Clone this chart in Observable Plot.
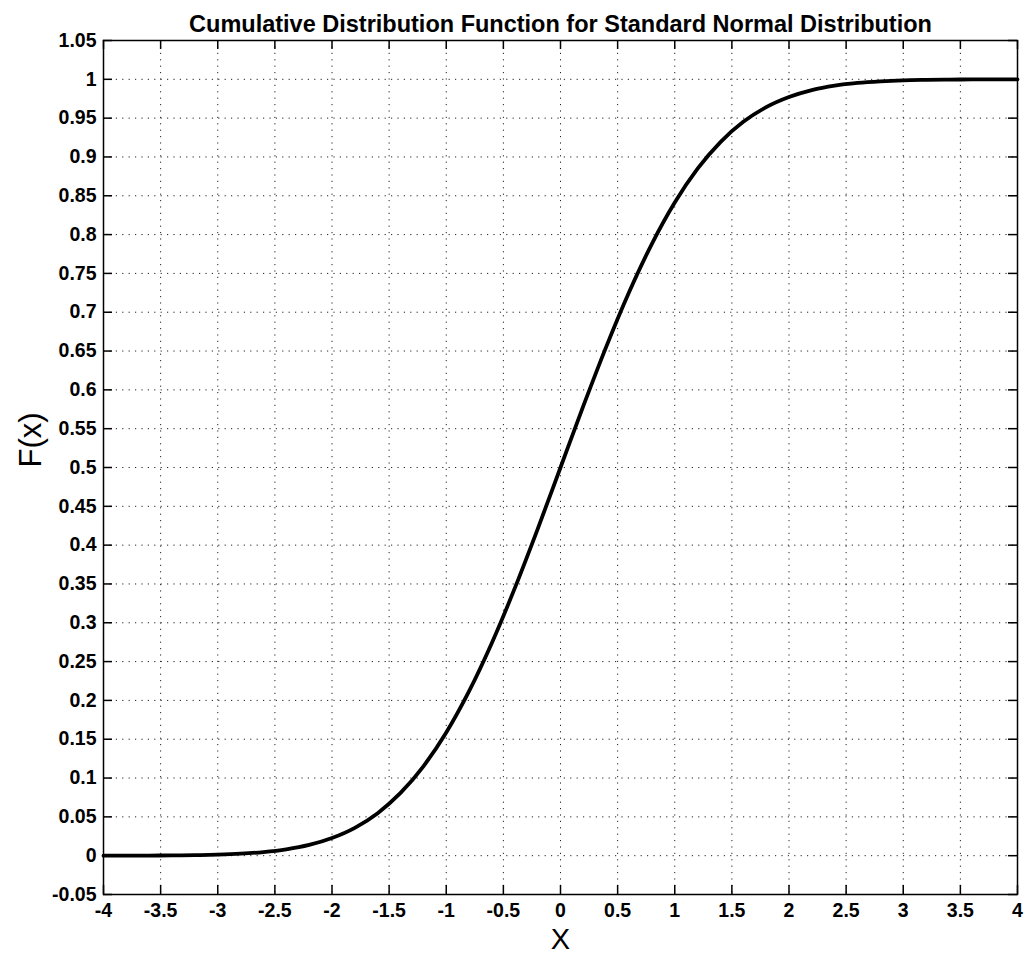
<!DOCTYPE html>
<html>
<head>
<meta charset="utf-8">
<script src="https://cdn.jsdelivr.net/npm/d3@7"></script>
<script src="https://cdn.jsdelivr.net/npm/@observablehq/plot@0.6"></script>
<style>
  html, body { margin: 0; padding: 0; background: #fff; }
  #chart svg { display: block; }
</style>
</head>
<body>
<div id="chart"></div>
<script>
// ---- data ----
const xValues = [-4.0, -3.8, -3.6, -3.4, -3.2, -3.0, -2.8, -2.6, -2.4, -2.2, -2.0,
                 -1.8, -1.6, -1.4, -1.2, -1.0, -0.8, -0.6, -0.4, -0.2, 0.0,
                  0.2, 0.4, 0.6, 0.8, 1.0, 1.2, 1.4, 1.6, 1.8, 2.0,
                  2.2, 2.4, 2.6, 2.8, 3.0, 3.2, 3.4, 3.6, 3.8, 4.0];
const cdfValues = [0.00003, 0.00007, 0.00016, 0.00034, 0.00069, 0.00135, 0.00256, 0.00466, 0.0082, 0.0139, 0.0228,
                   0.0359, 0.0548, 0.0808, 0.1151, 0.1587, 0.2119, 0.2743, 0.3446, 0.4207, 0.5,
                   0.5793, 0.6554, 0.7257, 0.7881, 0.8413, 0.8849, 0.9192, 0.9452, 0.9641, 0.9772,
                   0.9861, 0.9918, 0.9953, 0.9974, 0.9987, 0.9993, 0.9997, 0.9998, 0.9999, 1.0];
const xTicks = [-4, -3.5, -3, -2.5, -2, -1.5, -1, -0.5, 0, 0.5, 1, 1.5, 2, 2.5, 3, 3.5, 4];
const yTicks = [-0.05, 0, 0.05, 0.1, 0.15, 0.2, 0.25, 0.3, 0.35, 0.4, 0.45, 0.5, 0.55,
                0.6, 0.65, 0.7, 0.75, 0.8, 0.85, 0.9, 0.95, 1, 1.05];
const titleText = ["Cumulative Distribution Function for Standard Normal Distribution"];
const xLabel = ["X"];
const yLabel = ["F(x)"];

const points = xValues.map((x, i) => ({x, F: cdfValues[i]}));

// ---- layout ----
const W = 1029, H = 962;
const mL = 103, mR = 12, mT = 40, mB = 68;
const frameW = W - mL - mR, frameH = H - mT - mB;
const TICK = 9;
const fmt = d => String(d);
const gridStyle = {stroke: "#222", strokeWidth: 1, strokeDasharray: "1.2,5.2"};

const chart = Plot.plot({
  width: W, height: H,
  marginLeft: mL, marginRight: mR, marginTop: mT, marginBottom: mB,
  style: {fontFamily: "'Liberation Sans', Arial, sans-serif", background: "#fff", color: "#000"},
  x: {domain: [-4, 4]},
  y: {domain: [-0.05, 1.05]},
  marks: [
    // dotted grid
    Plot.ruleX(xTicks.slice(1, -1), {x: d => d, ...gridStyle}),
    Plot.ruleY(yTicks.slice(1, -1), {y: d => d, ...gridStyle}),
    // inward ticks on all four sides
    Plot.ruleX(xTicks, {x: d => d, insetTop: frameH - TICK, stroke: "#000", strokeWidth: 1.5}),
    Plot.ruleX(xTicks, {x: d => d, insetBottom: frameH - TICK, stroke: "#000", strokeWidth: 1.5}),
    Plot.ruleY(yTicks, {y: d => d, insetRight: frameW - TICK, stroke: "#000", strokeWidth: 1.5}),
    Plot.ruleY(yTicks, {y: d => d, insetLeft: frameW - TICK, stroke: "#000", strokeWidth: 1.5}),
    // tick labels
    Plot.axisX(xTicks, {tickSize: 0, tickPadding: 9, fontSize: 19.5, fontWeight: "bold", tickFormat: fmt, label: null}),
    Plot.axisY(yTicks, {tickSize: 0, tickPadding: 7, fontSize: 19.5, fontWeight: "bold", tickFormat: fmt, label: null}),
    // curve
    Plot.line(points, {x: "x", y: "F", curve: "monotone-x", stroke: "#000", strokeWidth: 3.8}),
    Plot.frame({stroke: "#000", strokeWidth: 1.5}),
    // titles
    Plot.text(titleText, {text: d => d, frameAnchor: "top", dy: -25, fontSize: 23.5, fontWeight: "bold", fill: "#000"}),
    Plot.text(xLabel, {text: d => d, frameAnchor: "bottom", dy: 54, fontSize: 29, fill: "#000"}),
    Plot.text(yLabel, {text: d => d, frameAnchor: "left", dx: -72, rotate: -90, fontSize: 31, fill: "#000"})
  ]
});
document.getElementById("chart").appendChild(chart);
</script>
</body>
</html>
